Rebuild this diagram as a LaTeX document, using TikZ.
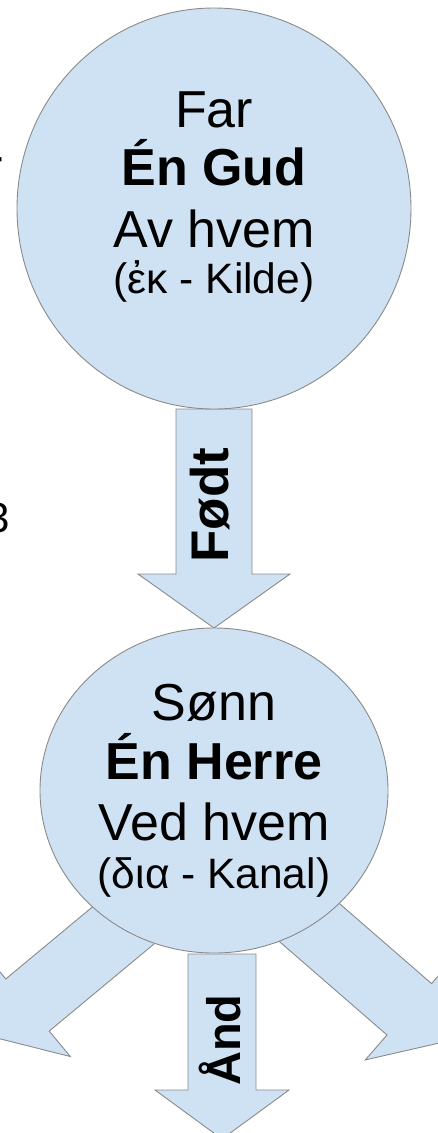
\documentclass[tikz,border=0pt]{standalone}
\usepackage{fontspec}
\setmainfont{Liberation Sans}
\usetikzlibrary{shapes.geometric}
\definecolor{bfill}{HTML}{CFE2F3}
\definecolor{bline}{HTML}{8A8A8A}
\begin{document}
\begin{tikzpicture}[x=1pt,y=-1pt,
  blob/.style={ellipse, draw=bline, fill=bfill, line width=0.9pt, inner sep=0pt},
  barrow/.style={draw=bline, fill=bfill, line width=0.9pt, line join=miter},
  bigtxt/.style={font=\fontsize{52}{60}\selectfont, inner sep=0pt, anchor=base},
  bigbold/.style={font=\fontsize{52}{60}\selectfont\bfseries, inner sep=0pt, anchor=base},
  smalltxt/.style={font=\fontsize{42.5}{50}\selectfont, inner sep=0pt, anchor=base},
  arrowlabel/.style={font=\bfseries, inner sep=0pt, anchor=base, rotate=90}
]
\useasboundingbox (0,0) rectangle (438,1133);

% block arrows (drawn first, circles cover their start)
\draw[barrow] (176,409) -- (252,409) -- (252,574) -- (290,574) -- (214,628)
  -- (138,574) -- (176,574) -- cycle;
\draw[barrow] (188,954) -- (256,954) -- (256,1090) -- (289,1090) -- (222,1139)
  -- (155,1090) -- (188,1090) -- cycle;
\draw[barrow] (121.2,883) -- (5.8,978.9) -- (-15.3,953.5) -- (-10.2,1036.3)
  -- (70.3,1056.5) -- (49.2,1031.1) -- (164.6,935.2) -- cycle;
\draw[barrow] (318.3,885.2) -- (431.6,983.6) -- (453.3,958.7) -- (446.3,1041.4)
  -- (365.3,1059.9) -- (387,1035) -- (273.7,936.6) -- cycle;

% circles
\node[blob, minimum width=394pt, minimum height=401pt] (far) at (214,208.5) {};
\node[blob, minimum width=348pt, minimum height=325pt] (sonn) at (214,790.5) {};

% texts of the upper circle
\node[bigtxt] (t1) at (214,127) {Far};
\node[bigbold] (t2) at (214,185) {Én Gud};
\node[bigtxt] (t3) at (214,247) {Av hvem};
\node[smalltxt] (t4) at (214,293.5) {(ἐκ - Kilde)};

% texts of the lower circle
\node[bigtxt] (s1) at (214,720) {Sønn};
\node[bigbold] (s2) at (214,779) {Én Herre};
\node[bigtxt] (s3) at (214,840) {Ved hvem};
\node[smalltxt] (s4) at (214,888) {(δια - Kanal)};

% arrow labels
\node[arrowlabel, font=\fontsize{53}{60}\selectfont\bfseries] (fodt) at (228.3,505) {Født};
\node[arrowlabel, font=\fontsize{47}{55}\selectfont\bfseries] (aand) at (240,1040) {Ånd};

% fragments of cut-off text at the left edge
\node[bigtxt, anchor=base east] (fragr) at (3.5,185) {r};
\node[font=\fontsize{42}{50}\selectfont, inner sep=0pt, anchor=base east] (frag3) at (9.8,532) {3};
\end{tikzpicture}
\end{document}
